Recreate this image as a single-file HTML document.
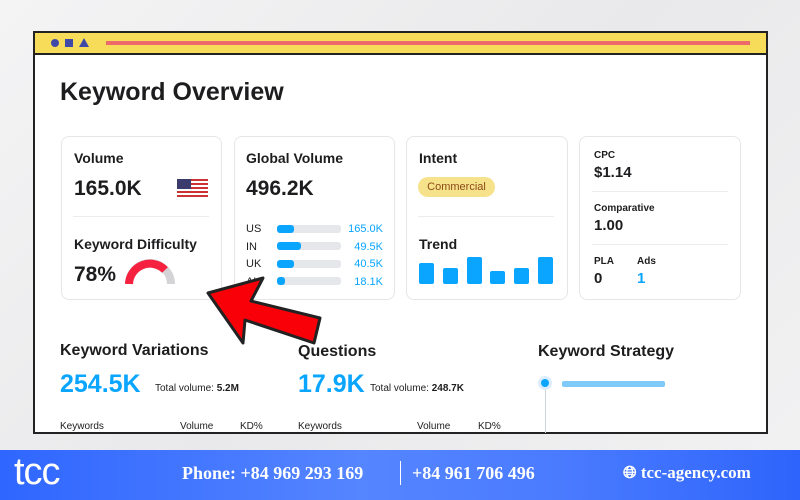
<!DOCTYPE html>
<html><head><style>
*{margin:0;padding:0;box-sizing:border-box}
body{width:800px;height:500px;overflow:hidden;position:relative;font-family:"Liberation Sans",sans-serif;background:linear-gradient(135deg,#f4f4f5 0%,#e9e9eb 50%,#f2f2f3 100%);color:#1d1d1f}
.a{position:absolute}
.frame{left:33px;top:31px;width:735px;height:403px;background:#fff;border:2px solid #222}
.hdr{left:33px;top:31px;width:735px;height:24px;background:#f7dc5a;border:2px solid #222}
.card{background:#fff;border:1px solid #e6e6e8;border-radius:8px}
.b{font-weight:bold}
.bar{height:8px;border-radius:3px;background:#e6e7ea}
.fill{height:8px;border-radius:3px;background:#0aa5ff}
.tb{background:#0aa5ff;border-radius:2px;bottom:0}
.sep{height:1px;background:#ececee}
</style></head><body>
<div class="a frame"></div>
<div class="a hdr"></div>
<div class="a" style="left:51px;top:39px;width:8px;height:8px;border-radius:50%;background:#3f4aa8"></div>
<div class="a" style="left:65px;top:39px;width:8px;height:8px;background:#3f4aa8"></div>
<div class="a" style="left:79px;top:38px;width:0;height:0;border-left:5px solid transparent;border-right:5px solid transparent;border-bottom:9px solid #3f4aa8"></div>
<div class="a" style="left:106px;top:41px;width:644px;height:4px;background:#ee6a6a"></div>
<div class="a b" style="left:60px;top:78px;font-size:25px">Keyword Overview</div>

<div class="a card" style="left:61px;top:136px;width:161px;height:164px"></div>
<div class="a b" style="left:74px;top:150px;font-size:14px">Volume</div>
<div class="a b" style="left:74px;top:177px;font-size:21px">165.0K</div>
<div class="a" style="left:177px;top:179px;width:31px;height:19px;background:repeating-linear-gradient(#c33 0 2px,#fff 2px 4px)"><div style="width:14px;height:10px;background:#3c3b6e"></div></div>
<div class="a sep" style="left:73px;top:216px;width:136px"></div>
<div class="a b" style="left:74px;top:236px;font-size:14px">Keyword Difficulty</div>
<div class="a b" style="left:74px;top:263px;font-size:21px">78%</div>
<svg class="a" style="left:124px;top:258px" width="52" height="28"><path d="M5 26 A21 21 0 0 1 47 26" fill="none" stroke="#d4d4d6" stroke-width="8"/><path d="M5 26 A21 21 0 0 1 41 12" fill="none" stroke="#f5213f" stroke-width="8"/></svg>

<div class="a card" style="left:234px;top:136px;width:161px;height:164px"></div>
<div class="a b" style="left:246px;top:150px;font-size:14px">Global Volume</div>
<div class="a b" style="left:246px;top:177px;font-size:21px">496.2K</div>
<div class="a" style="left:246px;top:221px;font-size:11px;line-height:17.5px">US<br>IN<br>UK<br>AU</div>
<div class="a bar" style="left:277px;top:225px;width:64px"><div class="fill" style="width:17px"></div></div>
<div class="a bar" style="left:277px;top:242px;width:64px"><div class="fill" style="width:24px"></div></div>
<div class="a bar" style="left:277px;top:260px;width:64px"><div class="fill" style="width:17px"></div></div>
<div class="a bar" style="left:277px;top:277px;width:64px"><div class="fill" style="width:8px"></div></div>
<div class="a" style="left:330px;top:221px;width:53px;text-align:right;font-size:11px;line-height:17.5px;color:#0aa5ff">165.0K<br>49.5K<br>40.5K<br>18.1K</div>

<div class="a card" style="left:406px;top:136px;width:162px;height:164px"></div>
<div class="a b" style="left:419px;top:150px;font-size:14px">Intent</div>
<div class="a" style="left:418px;top:177px;width:77px;height:20px;border-radius:10px;background:#f7e28c;color:#8a4b14;font-size:11px;line-height:20px;text-align:center">Commercial</div>
<div class="a sep" style="left:418px;top:216px;width:136px"></div>
<div class="a b" style="left:419px;top:236px;font-size:14px">Trend</div>
<div class="a tb" style="left:419px;top:263px;width:15px;height:21px"></div>
<div class="a tb" style="left:443px;top:268px;width:15px;height:16px"></div>
<div class="a tb" style="left:467px;top:257px;width:15px;height:27px"></div>
<div class="a tb" style="left:490px;top:271px;width:15px;height:13px"></div>
<div class="a tb" style="left:514px;top:268px;width:15px;height:16px"></div>
<div class="a tb" style="left:538px;top:257px;width:15px;height:27px"></div>

<div class="a card" style="left:579px;top:136px;width:162px;height:164px"></div>
<div class="a b" style="left:594px;top:150px;font-size:10px">CPC</div>
<div class="a b" style="left:594px;top:164px;font-size:15px">$1.14</div>
<div class="a sep" style="left:592px;top:191px;width:136px"></div>
<div class="a b" style="left:594px;top:203px;font-size:10px">Comparative</div>
<div class="a b" style="left:594px;top:217px;font-size:15px">1.00</div>
<div class="a sep" style="left:592px;top:244px;width:136px"></div>
<div class="a b" style="left:594px;top:256px;font-size:10px">PLA</div>
<div class="a b" style="left:637px;top:256px;font-size:10px">Ads</div>
<div class="a b" style="left:594px;top:270px;font-size:15px">0</div>
<div class="a b" style="left:637px;top:270px;font-size:15px;color:#0aa5ff">1</div>

<div class="a b" style="left:60px;top:342px;font-size:16px">Keyword Variations</div>
<div class="a b" style="left:60px;top:370px;font-size:25px;color:#0aa5ff">254.5K</div>
<div class="a" style="left:155px;top:383px;font-size:10px">Total volume: <b>5.2M</b></div>
<div class="a b" style="left:298px;top:343px;font-size:16px">Questions</div>
<div class="a b" style="left:298px;top:370px;font-size:25px;color:#0aa5ff">17.9K</div>
<div class="a" style="left:370px;top:383px;font-size:10px">Total volume: <b>248.7K</b></div>
<div class="a" style="left:60px;top:421px;font-size:10px">Keywords</div>
<div class="a" style="left:180px;top:421px;font-size:10px">Volume</div>
<div class="a" style="left:240px;top:421px;font-size:10px">KD%</div>
<div class="a" style="left:298px;top:421px;font-size:10px">Keywords</div>
<div class="a" style="left:417px;top:421px;font-size:10px">Volume</div>
<div class="a" style="left:478px;top:421px;font-size:10px">KD%</div>
<div class="a b" style="left:538px;top:343px;font-size:16px">Keyword Strategy</div>
<div class="a" style="left:545px;top:390px;width:1px;height:43px;background:#cfd3da"></div>
<div class="a" style="left:538px;top:376px;width:14px;height:14px;border-radius:50%;background:#dbeefe"></div>
<div class="a" style="left:541px;top:379px;width:8px;height:8px;border-radius:50%;background:#0aa5ff"></div>
<div class="a" style="left:562px;top:381px;width:103px;height:6px;background:#7fcaf8;border-radius:2px"></div>

<svg class="a" style="left:0;top:0" width="800" height="450"><polygon points="208,293 263,278 251,301 320,318 314,343 245,320 243,343" fill="#f90008" stroke="#222" stroke-width="3" stroke-linejoin="round"/></svg>

<div class="a" style="left:0;top:450px;width:800px;height:50px;background:linear-gradient(90deg,#2f66ff,#5585ff 45%,#4a7bff 70%,#2e64fb)"></div>
<div class="a" style="left:14px;top:452px;font-size:38px;line-height:40px;color:#fff;letter-spacing:-1px">tcc</div>
<div class="a" style="left:182px;top:463px;font-size:18px;color:#fff;font-family:'Liberation Serif',serif;font-weight:bold">Phone: +84 969 293 169</div>
<div class="a" style="left:400px;top:461px;width:1px;height:24px;background:#fff"></div>
<div class="a" style="left:412px;top:463px;font-size:18px;color:#fff;font-family:'Liberation Serif',serif;font-weight:bold">+84 961 706 496</div>
<div class="a" style="left:623px;top:463px;font-size:17px;color:#fff;font-family:'Liberation Serif',serif;font-weight:bold">&#x1F310;&#xFE0E; tcc-agency.com</div>
</body></html>
